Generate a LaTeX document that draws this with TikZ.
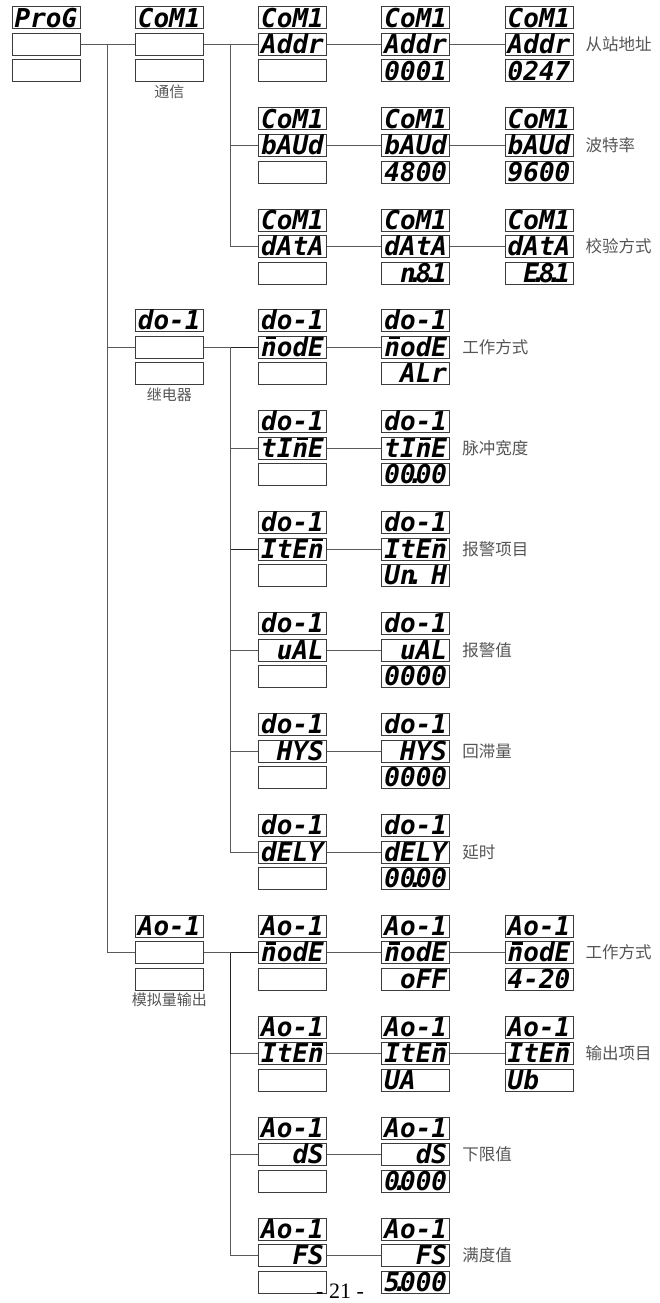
\documentclass[tikz,border=0pt]{standalone}
\usepackage{fontspec}
\usetikzlibrary{positioning,calc}
\newfontfamily\lcdfont{DejaVu Sans Mono}
\newfontfamily\cjk{Noto Sans CJK SC}
\newfontfamily\pagefont{Liberation Serif}
\definecolor{wire}{HTML}{5A5A5A}
\definecolor{frame}{HTML}{3C3C3C}
\definecolor{ink}{HTML}{555555}
\newcommand{\sk}{\phantom{0}}
\newcommand{\dpt}{\makebox[0pt]{.}}
\newcommand{\mseg}{\ooalign{n\cr\hidewidth\kern.15em\raisebox{.66em}{\rule{.42em}{.09em}}\hidewidth\cr}}
\newcommand{\lcdstack}[6]{%
  \node[lcd] (#1a) at (#2,#3) {#4};
  \node[lcd,below=3.5pt of #1a] (#1b) {#5};
  \node[lcd,below=3.5pt of #1b] (#1c) {#6};
}

\begin{document}
\begin{tikzpicture}[x=1pt,y=-1pt,
    lcd/.style={draw=frame,line width=1pt,minimum width=68pt,minimum height=22pt,
      inner sep=0pt,text height=18.5pt,text depth=0pt,
      font=\lcdfont\fontsize{26}{26}\selectfont\bfseries\itshape},
    link/.style={draw=wire,line width=1pt},
    darklink/.style={draw=black!85,line width=1pt},
    tag/.style={text=ink,inner sep=0pt,font=\cjk\fontsize{16.5}{16.5}\selectfont},
    note/.style={text=ink,inner sep=0pt,font=\cjk\fontsize{15}{15}\selectfont}]
  \useasboundingbox (0,0) rectangle (660,1303);

  \lcdstack{pg}{46}{18}{ProG}{}{}
  \lcdstack{com}{169.25}{18}{CoM1}{}{}
  \lcdstack{adrA}{292.5}{18}{CoM1}{Addr}{}
  \lcdstack{adrB}{415.75}{18}{CoM1}{Addr}{0001}
  \lcdstack{adrC}{539}{18}{CoM1}{Addr}{0247}
  \lcdstack{bauA}{292.5}{119}{CoM1}{bAUd}{}
  \lcdstack{bauB}{415.75}{119}{CoM1}{bAUd}{4800}
  \lcdstack{bauC}{539}{119}{CoM1}{bAUd}{9600}
  \lcdstack{datA}{292.5}{220}{CoM1}{dAtA}{}
  \lcdstack{datB}{415.75}{220}{CoM1}{dAtA}{\sk n\dpt8\dpt1}
  \lcdstack{datC}{539}{220}{CoM1}{dAtA}{\sk E\dpt8\dpt1}

  \lcdstack{rel}{169.25}{320.5}{do-1}{}{}
  \lcdstack{rmodA}{292.5}{320.5}{do-1}{\mseg odE}{}
  \lcdstack{rmodB}{415.75}{320.5}{do-1}{\mseg odE}{\sk ALr}
  \lcdstack{rtimA}{292.5}{421.5}{do-1}{tI\mseg E}{}
  \lcdstack{rtimB}{415.75}{421.5}{do-1}{tI\mseg E}{00\dpt00}
  \lcdstack{ritmA}{292.5}{522.5}{do-1}{ItE\mseg}{}
  \lcdstack{ritmB}{415.75}{522.5}{do-1}{ItE\mseg}{Un\dpt\sk H}
  \lcdstack{rvalA}{292.5}{623.5}{do-1}{\sk uAL}{}
  \lcdstack{rvalB}{415.75}{623.5}{do-1}{\sk uAL}{0000}
  \lcdstack{rhysA}{292.5}{724.5}{do-1}{\sk HYS}{}
  \lcdstack{rhysB}{415.75}{724.5}{do-1}{\sk HYS}{0000}
  \lcdstack{rdlyA}{292.5}{825.5}{do-1}{dELY}{}
  \lcdstack{rdlyB}{415.75}{825.5}{do-1}{dELY}{00\dpt00}

  \lcdstack{ao}{169.25}{926}{Ao-1}{}{}
  \lcdstack{amodA}{292.5}{926}{Ao-1}{\mseg odE}{}
  \lcdstack{amodB}{415.75}{926}{Ao-1}{\mseg odE}{\sk oFF}
  \lcdstack{amodC}{539}{926}{Ao-1}{\mseg odE}{4-20}
  \lcdstack{aitmA}{292.5}{1027}{Ao-1}{ItE\mseg}{}
  \lcdstack{aitmB}{415.75}{1027}{Ao-1}{ItE\mseg}{UA\sk\sk}
  \lcdstack{aitmC}{539}{1027}{Ao-1}{ItE\mseg}{Ub\sk\sk}
  \lcdstack{adsA}{292.5}{1128}{Ao-1}{\sk\sk dS}{}
  \lcdstack{adsB}{415.75}{1128}{Ao-1}{\sk\sk dS}{0\dpt000}
  \lcdstack{afsA}{292.5}{1229}{Ao-1}{\sk\sk FS}{}
  \lcdstack{afsB}{415.75}{1229}{Ao-1}{\sk\sk FS}{5\dpt000}

  \coordinate (pgj) at ($(pgb.east)!.5!(comb.west)$);
  \coordinate (comj) at ($(comb.east)!.5!(adrAb.west)$);
  \coordinate (relj) at ($(relb.east)!.5!(rmodAb.west)$);
  \coordinate (aoj) at ($(aob.east)!.5!(amodAb.west)$);

  \draw[link] (pgb.east) -- (comb.west);
  \draw[link] (pgj) |- (relb.west);
  \draw[link] (pgj) |- (aob.west);

  \draw[link] (comb.east) -- (adrAb.west);
  \draw[link] (comj) |- (bauAb.west);
  \draw[link] (comj) |- (datAb.west);
  \draw[link] (adrAb.east) -- (adrBb.west) (adrBb.east) -- (adrCb.west);
  \draw[link] (bauAb.east) -- (bauBb.west) (bauBb.east) -- (bauCb.west);
  \draw[link] (datAb.east) -- (datBb.west) (datBb.east) -- (datCb.west);

  \draw[link] (relb.east) -- (relj);
  \draw[darklink] (relj) -- (rmodAb.west);
  \draw[darklink] (relj) |- (ritmAb.west);
  \draw[link] (relj) |- (rtimAb.west);
  \draw[link] (relj) |- (rvalAb.west);
  \draw[link] (relj) |- (rhysAb.west);
  \draw[link] (relj) |- (rdlyAb.west);
  \draw[link] (rmodAb.east) -- (rmodBb.west);
  \draw[link] (rtimAb.east) -- (rtimBb.west);
  \draw[link] (ritmAb.east) -- (ritmBb.west);
  \draw[link] (rvalAb.east) -- (rvalBb.west);
  \draw[link] (rhysAb.east) -- (rhysBb.west);
  \draw[link] (rdlyAb.east) -- (rdlyBb.west);

  \draw[link] (aob.east) -- (aoj);
  \draw[link] (aoj) |- (aitmAb.west);
  \draw[link] (aoj) |- (adsAb.west);
  \draw[link] (aoj) |- (afsAb.west);
  \draw[darklink] (aoj) -- (amodAb.west);
  \draw[darklink] (aoj) -- (aoj |- aitmAb.west);
  \draw[link] (amodAb.east) -- (amodBb.west) (amodBb.east) -- (amodCb.west);
  \draw[link] (aitmAb.east) -- (aitmBb.west) (aitmBb.east) -- (aitmCb.west);
  \draw[link] (adsAb.east) -- (adsBb.west);
  \draw[link] (afsAb.east) -- (afsBb.west);

  \node[note,below=2.5pt of comc] (comnote) {通信};
  \node[note,below=2.5pt of relc] (relnote) {继电器};
  \node[note,below=2.5pt of aoc] (aonote) {模拟量输出};

  \node[tag,right=12pt of adrCb] (adrtag) {从站地址};
  \node[tag,right=12pt of bauCb] (bautag) {波特率};
  \node[tag,right=12pt of datCb] (dattag) {校验方式};
  \node[tag,right=12pt of rmodBb] (rmodtag) {工作方式};
  \node[tag,right=12pt of rtimBb] (rtimtag) {脉冲宽度};
  \node[tag,right=12pt of ritmBb] (ritmtag) {报警项目};
  \node[tag,right=12pt of rvalBb] (rvaltag) {报警值};
  \node[tag,right=12pt of rhysBb] (rhystag) {回滞量};
  \node[tag,right=12pt of rdlyBb] (rdlytag) {延时};
  \node[tag,right=12pt of amodCb] (amodtag) {工作方式};
  \node[tag,right=12pt of aitmCb] (aitmtag) {输出项目};
  \node[tag,right=12pt of adsBb] (adstag) {下限值};
  \node[tag,right=12pt of afsBb] (afstag) {满度值};

  \node[anchor=base,inner sep=0pt,font=\pagefont\fontsize{22}{22}\selectfont] (pageno) at (340,1298.5) {- 21 -};
\end{tikzpicture}
\end{document}
